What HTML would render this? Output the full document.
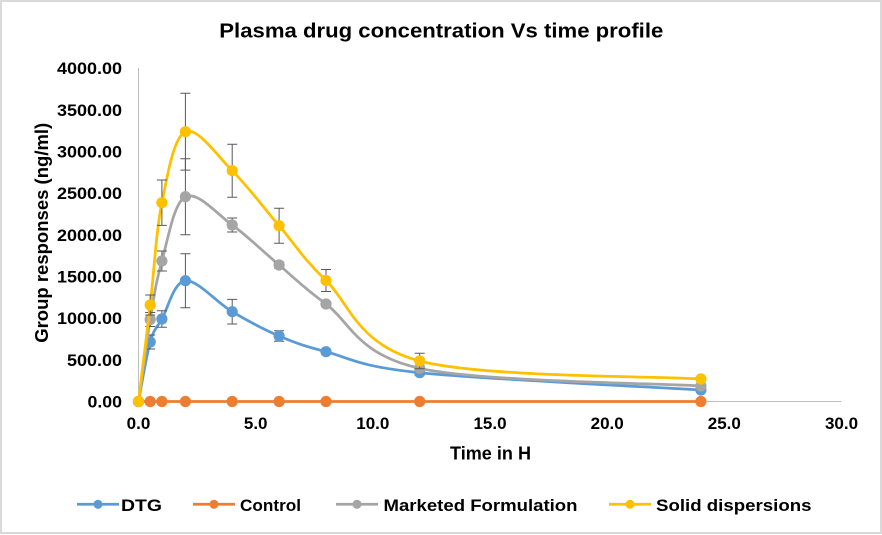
<!DOCTYPE html>
<html>
<head>
<meta charset="utf-8">
<style>
  html, body { margin:0; padding:0; background:#fff; }
  svg { display:block; }
  text { font-family: "Liberation Sans", Arial, sans-serif; font-weight:bold; fill:#000; }
</style>
</head>
<body>
<svg width="882" height="535" viewBox="0 0 882 535" xmlns="http://www.w3.org/2000/svg">
  <rect x="0" y="0" width="882" height="535" fill="#fff"/>
  <rect x="1" y="1" width="880" height="532" fill="none" stroke="#D9D9D9" stroke-width="2"/>

  <!-- Title -->
  <text x="441.3" y="37.7" font-size="20" text-anchor="middle" textLength="444" lengthAdjust="spacingAndGlyphs">Plasma drug concentration Vs time profile</text>

  <!-- Axes -->
  <line x1="138.5" y1="68" x2="138.5" y2="401.5" stroke="#BFBFBF" stroke-width="1"/>
  <line x1="138.5" y1="401.5" x2="841.5" y2="401.5" stroke="#BFBFBF" stroke-width="1"/>

  <!-- Y tick labels -->
  <g font-size="17" text-anchor="end">
    <text x="122" y="74" textLength="65" lengthAdjust="spacingAndGlyphs">4000.00</text>
    <text x="122" y="116" textLength="65" lengthAdjust="spacingAndGlyphs">3500.00</text>
    <text x="122" y="157.4" textLength="65" lengthAdjust="spacingAndGlyphs">3000.00</text>
    <text x="122" y="199.1" textLength="65" lengthAdjust="spacingAndGlyphs">2500.00</text>
    <text x="122" y="240.8" textLength="65" lengthAdjust="spacingAndGlyphs">2000.00</text>
    <text x="122" y="282.5" textLength="65" lengthAdjust="spacingAndGlyphs">1500.00</text>
    <text x="122" y="324.1" textLength="65" lengthAdjust="spacingAndGlyphs">1000.00</text>
    <text x="122" y="365.8" textLength="55" lengthAdjust="spacingAndGlyphs">500.00</text>
    <text x="122" y="407.5" textLength="34.5" lengthAdjust="spacingAndGlyphs">0.00</text>
  </g>

  <!-- X tick labels -->
  <g font-size="17" text-anchor="middle">
    <text x="138.5" y="429">0.0</text>
    <text x="255.7" y="429">5.0</text>
    <text x="372.8" y="429">10.0</text>
    <text x="490" y="429">15.0</text>
    <text x="607.2" y="429">20.0</text>
    <text x="724.3" y="429">25.0</text>
    <text x="841.5" y="429">30.0</text>
  </g>

  <!-- Axis titles -->
  <text x="490.5" y="459.3" font-size="18" text-anchor="middle" textLength="81" lengthAdjust="spacingAndGlyphs">Time in H</text>
  <text transform="translate(48,232.8) rotate(-90)" x="0" y="0" font-size="18" text-anchor="middle" textLength="220" lengthAdjust="spacingAndGlyphs">Group responses (ng/ml)</text>

  <!-- DTG series -->
  <path d="M138.5,401.5 C140.45,391.58 146.3,355.75 150.2,342 C154.1,328.25 156.03,329.22 161.9,319 C167.77,308.78 173.68,281.92 185.4,280.7 C197.12,279.48 216.58,302.48 232.2,311.7 C247.82,320.92 263.47,329.33 279.1,336 C294.73,342.67 302.57,345.58 326,351.7 C349.43,357.82 357.22,366.32 419.7,372.7 C482.18,379.08 654.03,387.12 700.9,390" fill="none" stroke="#5B9BD5" stroke-width="2.75" stroke-linecap="round"/>
  <g stroke="#595959" stroke-width="1" fill="none">
    <path d="M150.2,335V349M145.2,335H155.2M145.2,349H155.2"/>
    <path d="M161.9,310.7V327.3M156.9,310.7H166.9M156.9,327.3H166.9"/>
    <path d="M185.4,253.7V307.7M180.4,253.7H190.4M180.4,307.7H190.4"/>
    <path d="M232.2,299.4V324M227.2,299.4H237.2M227.2,324H237.2"/>
    <path d="M279.1,330.7V341.3M274.1,330.7H284.1M274.1,341.3H284.1"/>
    <path d="M326,349.7V353.7M321,349.7H331M321,353.7H331"/>
    <path d="M419.7,370.7V374.7M414.7,370.7H424.7M414.7,374.7H424.7"/>
  </g>
  <g fill="#5B9BD5">
    <circle cx="138.5" cy="401.5" r="5.6"/>
    <circle cx="150.2" cy="342" r="5.6"/>
    <circle cx="161.9" cy="319" r="5.6"/>
    <circle cx="185.4" cy="280.7" r="5.6"/>
    <circle cx="232.2" cy="311.7" r="5.6"/>
    <circle cx="279.1" cy="336" r="5.6"/>
    <circle cx="326" cy="351.7" r="5.6"/>
    <circle cx="419.7" cy="372.7" r="5.6"/>
    <circle cx="700.9" cy="390" r="5.6"/>
  </g>

  <!-- Control series -->
  <line x1="138.5" y1="401.5" x2="700.9" y2="401.5" stroke="#ED7D31" stroke-width="2.75"/>
  <g fill="#ED7D31">
    <circle cx="138.5" cy="401.5" r="5.6"/>
    <circle cx="150.2" cy="401.5" r="5.6"/>
    <circle cx="161.9" cy="401.5" r="5.6"/>
    <circle cx="185.4" cy="401.5" r="5.6"/>
    <circle cx="232.2" cy="401.5" r="5.6"/>
    <circle cx="279.1" cy="401.5" r="5.6"/>
    <circle cx="326" cy="401.5" r="5.6"/>
    <circle cx="419.7" cy="401.5" r="5.6"/>
    <circle cx="700.9" cy="401.5" r="5.6"/>
  </g>

  <!-- Marketed Formulation series -->
  <path d="M138.5,401.5 C140.45,387.83 146.3,342.92 150.2,319.5 C154.1,296.08 156.03,281.47 161.9,261 C167.77,240.53 173.68,202.7 185.4,196.7 C197.12,190.7 216.58,213.62 232.2,225 C247.82,236.38 263.47,251.83 279.1,265 C294.73,278.17 302.57,286.78 326,304 C349.43,321.22 357.22,354.63 419.7,368.3 C482.18,381.97 654.03,383.05 700.9,386" fill="none" stroke="#A5A5A5" stroke-width="2.75" stroke-linecap="round"/>
  <g stroke="#595959" stroke-width="1" fill="none">
    <path d="M150.2,312.5V326.5M145.2,312.5H155.2M145.2,326.5H155.2"/>
    <path d="M161.9,251V271M156.9,251H166.9M156.9,271H166.9"/>
    <path d="M185.4,158.7V234.7M180.4,158.7H190.4M180.4,234.7H190.4"/>
    <path d="M232.2,218V232M227.2,218H237.2M227.2,232H237.2"/>
    <path d="M279.1,262V268M274.1,262H284.1M274.1,268H284.1"/>
    <path d="M326,301.5V306.5M321,301.5H331M321,306.5H331"/>
  </g>
  <g fill="#A5A5A5">
    <circle cx="138.5" cy="401.5" r="5.6"/>
    <circle cx="150.2" cy="319.5" r="5.6"/>
    <circle cx="161.9" cy="261" r="5.6"/>
    <circle cx="185.4" cy="196.7" r="5.6"/>
    <circle cx="232.2" cy="225" r="5.6"/>
    <circle cx="279.1" cy="265" r="5.6"/>
    <circle cx="326" cy="304" r="5.6"/>
    <circle cx="419.7" cy="368.3" r="5.6"/>
    <circle cx="700.9" cy="386" r="5.6"/>
  </g>

  <!-- Solid dispersions series -->
  <path d="M138.5,401.5 C140.45,385.42 146.3,338.13 150.2,305 C154.1,271.87 156.03,231.58 161.9,202.7 C167.77,173.82 173.68,137.03 185.4,131.7 C197.12,126.37 216.58,155.03 232.2,170.7 C247.82,186.37 263.47,207.4 279.1,225.7 C294.73,244 302.57,257.95 326,280.5 C349.43,303.05 357.22,344.58 419.7,361 C482.18,377.42 654.03,376 700.9,379" fill="none" stroke="#FFC000" stroke-width="2.75" stroke-linecap="round"/>
  <g stroke="#595959" stroke-width="1" fill="none">
    <path d="M150.2,295V315M145.2,295H155.2M145.2,315H155.2"/>
    <path d="M161.9,180V225.4M156.9,180H166.9M156.9,225.4H166.9"/>
    <path d="M185.4,93.3V170.1M180.4,93.3H190.4M180.4,170.1H190.4"/>
    <path d="M232.2,144.2V197.2M227.2,144.2H237.2M227.2,197.2H237.2"/>
    <path d="M279.1,208.2V243.2M274.1,208.2H284.1M274.1,243.2H284.1"/>
    <path d="M326,269.5V291.5M321,269.5H331M321,291.5H331"/>
    <path d="M419.7,353.3V368.7M414.7,353.3H424.7M414.7,368.7H424.7"/>
  </g>
  <g fill="#FFC000">
    <circle cx="138.5" cy="401.5" r="5.6"/>
    <circle cx="150.2" cy="305" r="5.6"/>
    <circle cx="161.9" cy="202.7" r="5.6"/>
    <circle cx="185.4" cy="131.7" r="5.6"/>
    <circle cx="232.2" cy="170.7" r="5.6"/>
    <circle cx="279.1" cy="225.7" r="5.6"/>
    <circle cx="326" cy="280.5" r="5.6"/>
    <circle cx="419.7" cy="361" r="5.6"/>
    <circle cx="700.9" cy="379" r="5.6"/>
  </g>

  <!-- Legend -->
  <g stroke-width="2.75">
    <line x1="77" y1="504.3" x2="119" y2="504.3" stroke="#5B9BD5"/>
    <line x1="193" y1="504.3" x2="235" y2="504.3" stroke="#ED7D31"/>
    <line x1="336" y1="504.3" x2="378" y2="504.3" stroke="#A5A5A5"/>
    <line x1="609" y1="504.3" x2="651" y2="504.3" stroke="#FFC000"/>
  </g>
  <circle cx="98" cy="504.3" r="4.5" fill="#5B9BD5"/>
  <circle cx="214" cy="504.3" r="4.5" fill="#ED7D31"/>
  <circle cx="357" cy="504.3" r="4.5" fill="#A5A5A5"/>
  <circle cx="630" cy="504.3" r="4.5" fill="#FFC000"/>
  <g font-size="17">
    <text x="121" y="511" textLength="41" lengthAdjust="spacingAndGlyphs">DTG</text>
    <text x="240" y="511" textLength="61" lengthAdjust="spacingAndGlyphs">Control</text>
    <text x="383.5" y="511" textLength="194" lengthAdjust="spacingAndGlyphs">Marketed Formulation</text>
    <text x="656" y="511" textLength="155.5" lengthAdjust="spacingAndGlyphs">Solid dispersions</text>
  </g>
</svg>
</body>
</html>
